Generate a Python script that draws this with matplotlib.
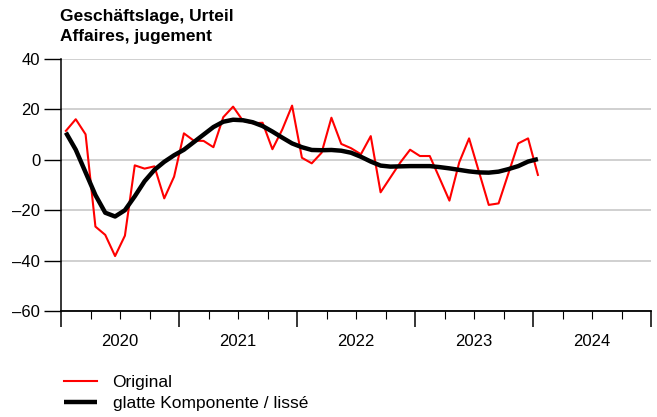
import numpy as np
import matplotlib
matplotlib.use("Agg")
import matplotlib.pyplot as plt
import matplotlib.transforms as mtransforms

plt.rcParams['font.family'] = ['Liberation Sans', 'DejaVu Sans']

# monthly values, Jan 2020 .. Jan 2024
original = [11.5, 16.1, 10.1, -26.5, -29.8, -38.2, -30.1, -2.2, -3.5, -2.6, -15.3, -6.7,
            10.5, 7.6, 7.5, 5.0, 16.9, 21.1, 15.5, 14.5, 14.7, 4.2, 12.0, 21.5,
            0.8, -1.4, 2.8, 16.7, 6.3, 4.6, 2.2, 9.4, -12.9, -7.0, -1.1, 4.0,
            1.5, 1.5, -7.3, -16.2, -1.0, 8.5, -4.7, -17.9, -17.3, -5.4, 6.5, 8.5,
            -6.0]
smooth = [10.8, 4.0, -5.0, -14.0, -21.0, -22.5, -20.0, -14.5, -8.5, -4.0, -0.8, 1.8,
          4.0, 7.0, 10.0, 13.0, 15.1, 15.9, 15.7, 14.9, 13.4, 11.2, 8.8, 6.5,
          5.0, 3.9, 3.8, 3.9, 3.6, 2.8, 1.2, -0.7, -2.3, -2.7, -2.6, -2.5,
          -2.5, -2.5, -2.9, -3.4, -4.0, -4.6, -5.0, -5.1, -4.7, -3.7, -2.5, -0.7,
          0.3]
start_year = 2020
years = [2020, 2021, 2022, 2023, 2024]
yticks = [40, 20, 0, -20, -40, -60]

t = start_year + (np.arange(len(original)) + 0.5) / 12

fig = plt.figure(figsize=(6.57, 4.17), dpi=100)
ax = fig.add_axes([61 / 657, 1 - 311 / 417, 590 / 657, 252 / 417])

ax.plot(t, original, color='#ff0000', lw=1.5, label='Original', zorder=3)
ax.plot(t, smooth, color='black', lw=3.2, label='glatte Komponente / lissé',
        zorder=4, solid_capstyle='butt')

ax.set_xlim(2020, 2025)
ax.set_ylim(-60, 40)
ax.set_yticks(yticks)
ax.set_yticklabels([str(v).replace('-', '\u2013') for v in yticks])
ax.tick_params(axis='y', length=12, width=1, labelsize=12, pad=3)
ax.grid(axis='y', color='#d0d0d0', lw=1.4)
ax.set_axisbelow(True)

ax.set_xticks(range(2020, 2026))
ax.set_xticklabels([])
ax.set_xticks(np.arange(2020, 2025, 0.25), minor=True)
ax.tick_params(axis='x', which='major', length=11.5, width=1.1)
ax.tick_params(axis='x', which='minor', length=6, width=0.8)

trans = mtransforms.blended_transform_factory(ax.transData, ax.transAxes)
for y in years:
    ax.text(y + 0.5, -30.5 / 252, str(y), transform=trans, ha='center',
            va='center', fontsize=12)

for s in ['top', 'right']:
    ax.spines[s].set_visible(False)
ax.spines['left'].set_linewidth(1.1)
ax.spines['bottom'].set_linewidth(1.3)

fig.text(60 / 657, 1 - 20.7 / 417, 'Geschäftslage, Urteil', fontsize=12.5,
         fontweight='bold', va='baseline', ha='left')
fig.text(60 / 657, 1 - 40.7 / 417, 'Affaires, jugement', fontsize=12.5,
         fontweight='bold', va='baseline', ha='left')

fig.legend(loc='upper left', bbox_to_anchor=(64 / 657, 1 - 375 / 417),
           frameon=False, fontsize=12.5, handlelength=1.9, labelspacing=0.32,
           handletextpad=0.9, borderaxespad=0, borderpad=0)

fig.savefig('out.png', dpi=100)
